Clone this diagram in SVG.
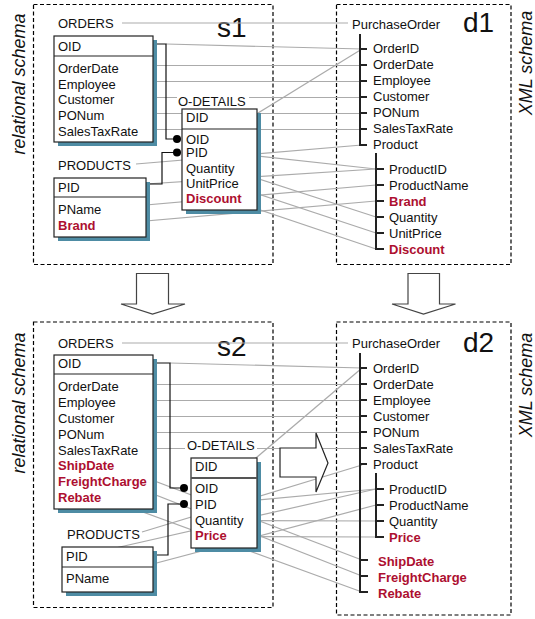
<svg xmlns="http://www.w3.org/2000/svg" width="535" height="619" viewBox="0 0 535 619">
<style>
.t{font-family:"Liberation Sans",Arial,sans-serif;font-size:13px;fill:#111}
.r{fill:#ad0f30;font-weight:bold}
.big{font-family:"Liberation Sans",Arial,sans-serif;font-size:28px;fill:#111}
.side{font-family:"Liberation Sans",Arial,sans-serif;font-size:18px;font-style:italic;fill:#111}
.ln{stroke:#ababab;stroke-width:1.2;fill:none}
.k{stroke:#111;stroke-width:1.2;fill:none}
.box{fill:#fff;stroke:#222;stroke-width:1.2}
.div{stroke:#222;stroke-width:1.2}
.sh{fill:#4e8ca4}
.panel{fill:none;stroke:#000;stroke-width:1.2;stroke-dasharray:4 2.5}
.tree{stroke:#222;stroke-width:2;fill:none}
.bg{fill:#fff}
.dot{fill:#000}
.arr{fill:#fff;stroke:#444;stroke-width:1.2}
</style>

<g id="panels">
<rect class="panel" x="33.5" y="4.5" width="239.5" height="260"/>
<rect class="panel" x="336.5" y="4.5" width="174.5" height="260"/>
<rect class="panel" x="33.5" y="322" width="239.5" height="285.5"/>
<rect class="panel" x="336.5" y="322" width="174.5" height="293"/>
<text class="side" transform="translate(25,84) rotate(-90)" text-anchor="middle">relational schema</text>
<text class="side" transform="translate(532,63) rotate(-90)" text-anchor="middle">XML schema</text>
<text class="side" transform="translate(25,403) rotate(-90)" text-anchor="middle">relational schema</text>
<text class="side" transform="translate(532,385) rotate(-90)" text-anchor="middle">XML schema</text>
<text class="big" x="217" y="37">s1</text>
<text class="big" x="463" y="32">d1</text>
<text class="big" x="217" y="356">s2</text>
<text class="big" x="463" y="352">d2</text>
</g>

<g id="connectors">
<!-- s1 -> d1 -->
<line class="ln" x1="122" y1="23" x2="348" y2="23"/>
<line class="ln" x1="166" y1="44" x2="362" y2="49"/>
<line class="ln" x1="120" y1="65.5" x2="360" y2="65.5"/>
<line class="ln" x1="120" y1="81.5" x2="360" y2="81.5"/>
<line class="ln" x1="120" y1="97.5" x2="360" y2="97.5"/>
<line class="ln" x1="120" y1="113.5" x2="360" y2="113.5"/>
<line class="ln" x1="120" y1="129.5" x2="360" y2="129.5"/>
<line class="ln" x1="250" y1="118" x2="362" y2="49"/>
<line class="ln" x1="136" y1="164" x2="362" y2="145"/>
<line class="ln" x1="220" y1="152" x2="376" y2="169"/>
<line class="ln" x1="100" y1="187" x2="376" y2="169"/>
<line class="ln" x1="225" y1="168" x2="376" y2="217"/>
<line class="ln" x1="225" y1="183" x2="376" y2="233"/>
<line class="ln" x1="225" y1="198" x2="376" y2="249"/>
<line class="ln" x1="100" y1="209" x2="376" y2="185"/>
<line class="ln" x1="100" y1="225" x2="376" y2="201"/>
<!-- s1 keys -->
<polyline class="k" points="153,44 166,44 166,139 177,139"/>
<polyline class="k" points="146,184 162,184 162,152.5 177,152.5"/>
<circle class="dot" cx="177" cy="139" r="4"/>
<circle class="dot" cx="177" cy="152.5" r="4"/>
<!-- s2 -> d2 -->
<line class="ln" x1="122" y1="343" x2="348" y2="343"/>
<line class="ln" x1="170" y1="363" x2="362" y2="368"/>
<line class="ln" x1="120" y1="384.5" x2="360" y2="384.5"/>
<line class="ln" x1="120" y1="400.5" x2="360" y2="400.5"/>
<line class="ln" x1="120" y1="416.5" x2="360" y2="416.5"/>
<line class="ln" x1="120" y1="432.5" x2="360" y2="432.5"/>
<line class="ln" x1="120" y1="448.5" x2="360" y2="448.5"/>
<line class="ln" x1="250" y1="463" x2="362" y2="368"/>
<line class="ln" x1="142" y1="532" x2="362" y2="465"/>
<line class="ln" x1="215" y1="504" x2="376" y2="489"/>
<line class="ln" x1="80" y1="556" x2="376" y2="489"/>
<line class="ln" x1="230" y1="520.5" x2="376" y2="521"/>
<line class="ln" x1="230" y1="536.5" x2="376" y2="537"/>
<line class="ln" x1="100" y1="578" x2="376" y2="505"/>
<line class="ln" x1="110" y1="464" x2="362" y2="560"/>
<line class="ln" x1="110" y1="477" x2="362" y2="576"/>
<line class="ln" x1="110" y1="500" x2="362" y2="592"/>
<!-- s2 keys -->
<polyline class="k" points="153,363 170,363 170,488 184,488"/>
<polyline class="k" points="153,555 168,555 168,504 184,504"/>
<circle class="dot" cx="184" cy="488" r="4"/>
<circle class="dot" cx="184" cy="504" r="4"/>
</g>

<g id="arrows">
<polygon class="arr" points="136.5,273.5 168.5,273.5 168.5,304 185,304 152.5,314 121,304 136.5,304"/>
<polygon class="arr" points="408,273.5 439.5,273.5 439.5,304 455.5,304 423.5,314 392,304 408,304"/>
<polygon class="arr" style="stroke:#222" points="280,448 316,448 316,433 328,463 316,492 316,477 280,477"/>
</g>

<!-- s1 nodes -->
<g id="s1-orders">
<text class="t" x="58" y="28">ORDERS</text>
<rect class="sh" x="58" y="40" width="99" height="106"/>
<rect class="box" x="54" y="36" width="99" height="106"/>
<line class="div" x1="54" y1="56" x2="153" y2="56"/>
<text class="t" x="58" y="51">OID</text>
<text class="t" x="58" y="72.5">OrderDate</text>
<text class="t" x="58" y="88.5">Employee</text>
<text class="t" x="58" y="104">Customer</text>
<text class="t" x="58" y="120">PONum</text>
<text class="t" x="58" y="136">SalesTaxRate</text>
</g>
<g id="s1-odetails">
<rect class="bg" x="177" y="94" width="72" height="13"/>
<text class="t" x="178" y="105.5">O-DETAILS</text>
<rect class="sh" x="186" y="113" width="75" height="101"/>
<rect class="box" x="182" y="109" width="75" height="101"/>
<line class="div" x1="182" y1="129" x2="257" y2="129"/>
<text class="t" x="186" y="122">DID</text>
<text class="t" x="186" y="143.5">OID</text>
<text class="t" x="186" y="157">PID</text>
<text class="t" x="186" y="172.5">Quantity</text>
<text class="t" x="186" y="187.5">UnitPrice</text>
<text class="t r" x="186" y="203">Discount</text>
</g>
<g id="s1-products">
<text class="t" x="58" y="169.5">PRODUCTS</text>
<rect class="sh" x="58" y="182" width="92" height="59"/>
<rect class="box" x="54" y="178" width="92" height="59"/>
<line class="div" x1="54" y1="197" x2="146" y2="197"/>
<text class="t" x="58" y="191.5">PID</text>
<text class="t" x="58" y="214">PName</text>
<text class="t r" x="58" y="230">Brand</text>
</g>
<g id="d1-tree">
<text class="t" x="352" y="28.5">PurchaseOrder</text>
<path class="tree" d="M360,34V145H367M360,49H367M360,65H367M360,81H367M360,97H367M360,113H367M360,129H367"/>
<text class="t" x="373" y="53">OrderID</text>
<text class="t" x="373" y="69">OrderDate</text>
<text class="t" x="373" y="85">Employee</text>
<text class="t" x="373" y="101">Customer</text>
<text class="t" x="373" y="117">PONum</text>
<text class="t" x="373" y="133">SalesTaxRate</text>
<text class="t" x="373" y="149">Product</text>
<path class="tree" d="M376,153V249H384M376,169H384M376,185H384M376,201H384M376,217H384M376,233H384"/>
<text class="t" x="389" y="174">ProductID</text>
<text class="t" x="389" y="190">ProductName</text>
<text class="t r" x="389" y="206">Brand</text>
<text class="t" x="389" y="222">Quantity</text>
<text class="t" x="389" y="238">UnitPrice</text>
<text class="t r" x="389" y="254">Discount</text>
</g>

<!-- s2 nodes -->
<g id="s2-orders">
<text class="t" x="58" y="348">ORDERS</text>
<rect class="sh" x="58" y="359" width="99" height="154"/>
<rect class="box" x="54" y="355" width="99" height="154"/>
<line class="div" x1="54" y1="374" x2="153" y2="374"/>
<text class="t" x="58" y="368">OID</text>
<text class="t" x="58" y="390.5">OrderDate</text>
<text class="t" x="58" y="406.5">Employee</text>
<text class="t" x="58" y="422.5">Customer</text>
<text class="t" x="58" y="438.5">PONum</text>
<text class="t" x="58" y="454.5">SalesTaxRate</text>
<text class="t r" x="58" y="470">ShipDate</text>
<text class="t r" x="58" y="486">FreightCharge</text>
<text class="t r" x="58" y="502">Rebate</text>
</g>
<g id="s2-odetails">
<rect class="bg" x="185" y="438" width="72" height="13"/>
<text class="t" x="187" y="449.5">O-DETAILS</text>
<rect class="sh" x="195" y="462" width="66" height="90"/>
<rect class="box" x="191" y="458" width="66" height="90"/>
<line x1="191" y1="478" x2="257" y2="478" style="stroke:#555;stroke-width:1.8"/>
<text class="t" x="195" y="470.5">DID</text>
<text class="t" x="195" y="493">OID</text>
<text class="t" x="195" y="508.5">PID</text>
<text class="t" x="195" y="524.5">Quantity</text>
<text class="t r" x="195" y="540">Price</text>
</g>
<g id="s2-products">
<text class="t" x="67" y="538.5">PRODUCTS</text>
<rect class="sh" x="66" y="551" width="91" height="45"/>
<rect class="box" x="62" y="547" width="91" height="45"/>
<line class="div" x1="62" y1="567" x2="153" y2="567"/>
<text class="t" x="66" y="561">PID</text>
<text class="t" x="66" y="583">PName</text>
</g>
<g id="d2-tree">
<text class="t" x="352" y="348">PurchaseOrder</text>
<path class="tree" d="M360,353V592H368M360,368H367M360,384H367M360,400H367M360,416H367M360,432H367M360,448H367M360,464H367M360,560H368M360,576H368"/>
<text class="t" x="373" y="373">OrderID</text>
<text class="t" x="373" y="389">OrderDate</text>
<text class="t" x="373" y="405">Employee</text>
<text class="t" x="373" y="421">Customer</text>
<text class="t" x="373" y="437">PONum</text>
<text class="t" x="373" y="453">SalesTaxRate</text>
<text class="t" x="373" y="469">Product</text>
<path class="tree" d="M376,473V537H384M376,489H384M376,505H384M376,521H384"/>
<text class="t" x="389" y="494">ProductID</text>
<text class="t" x="389" y="510">ProductName</text>
<text class="t" x="389" y="526">Quantity</text>
<text class="t r" x="389" y="542">Price</text>
<text class="t r" x="378" y="565.5">ShipDate</text>
<text class="t r" x="378" y="581.5">FreightCharge</text>
<text class="t r" x="378" y="597.5">Rebate</text>
</g>
</svg>
